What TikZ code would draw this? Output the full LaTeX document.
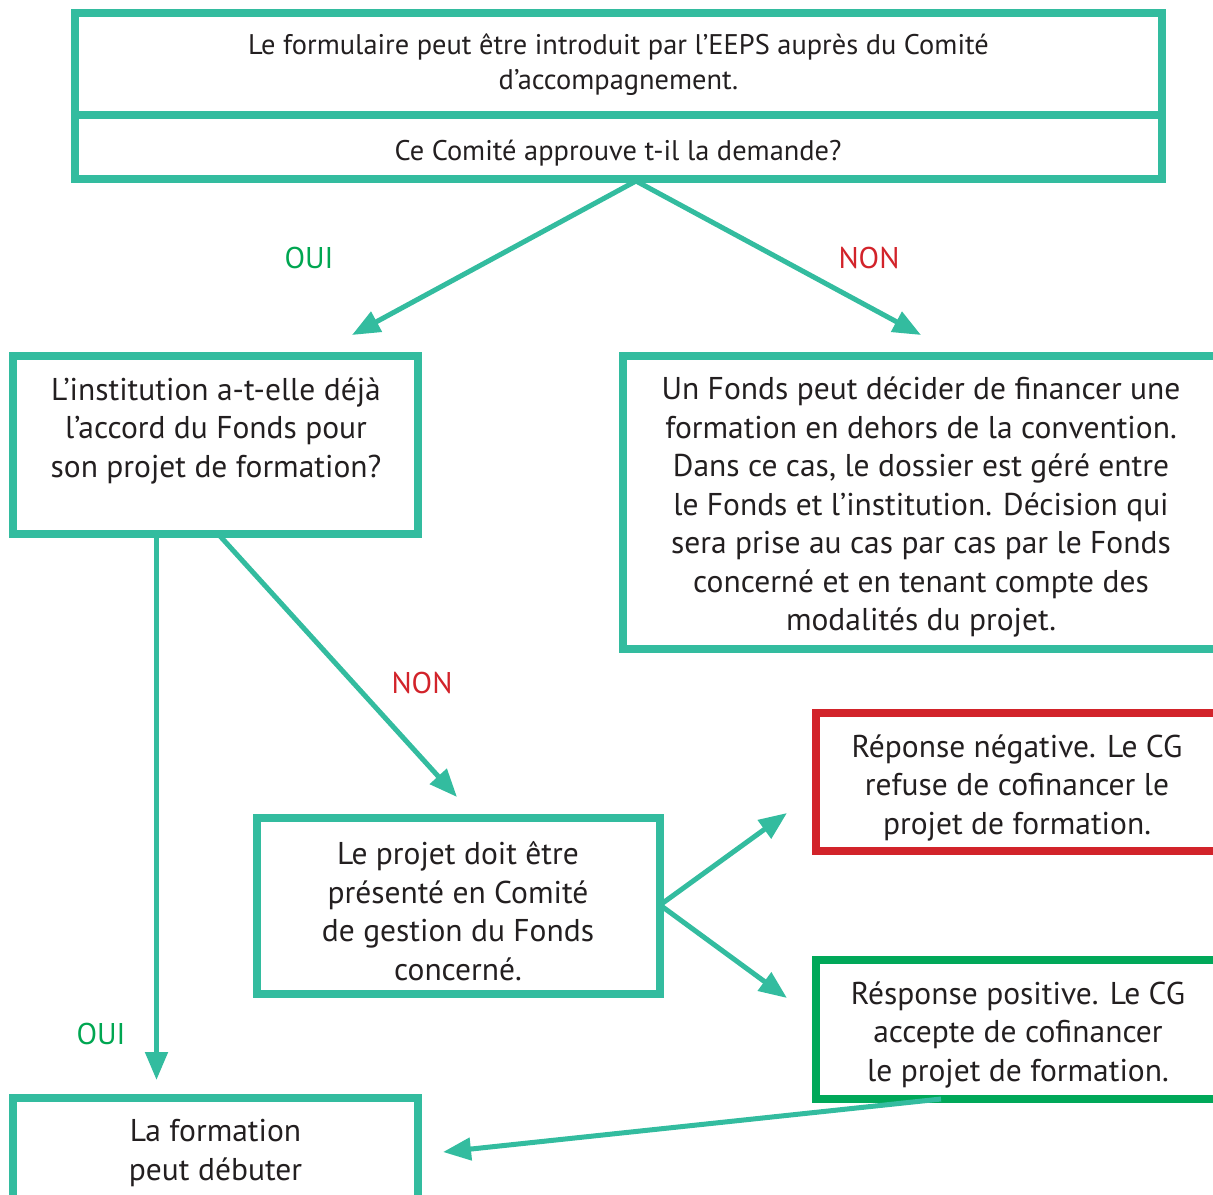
\documentclass[tikz,border=0pt]{standalone}
\usepackage{fontspec}
\setmainfont{PT Sans}
\usetikzlibrary{arrows.meta}
\definecolor{tealc}{RGB}{51,188,159}
\definecolor{redc}{RGB}{210,35,42}
\definecolor{greenc}{RGB}{0,168,89}
\definecolor{ouic}{RGB}{0,166,81}
\definecolor{ink}{RGB}{35,31,32}
\begin{document}
\begin{tikzpicture}[x=1bp,y=-1bp,
  box/.style={draw=tealc,line width=8bp,inner sep=0pt,outer sep=0pt},
  txt/.style={text=ink,align=center,inner sep=0pt,font=\fontsize{31.5bp}{38.5bp}\selectfont},
  toptxt/.style={text=ink,align=center,inner sep=0pt,font=\fontsize{28.4bp}{35bp}\selectfont},
  lbl/.style={inner sep=0pt,font=\fontsize{30bp}{34bp}\selectfont},
  arr/.style={draw=tealc,line width=5bp,-{Triangle[length=28bp,width=22bp]}}]
\useasboundingbox (0,0) rectangle (1213,1195);
% boxes
\node[box,minimum width=1087bp,minimum height=102bp] (top1) at (618.5,64) {};
\node[box,minimum width=1087bp,minimum height=64bp] (top2) at (618.5,147) {};
\node[box,minimum width=405bp,minimum height=178bp] (inst) at (215.5,445) {};
\node[box,minimum width=595bp,minimum height=293bp] (fonds) at (920.5,502.5) {};
\node[box,minimum width=403bp,minimum height=176.5bp] (projet) at (458.5,905.75) {};
\node[box,draw=redc,minimum width=402bp,minimum height=138.5bp] (neg) at (1017,781.75) {};
\node[box,draw=greenc,minimum width=402bp,minimum height=139bp] (pos) at (1017,1029.5) {};
\node[box,minimum width=405bp,minimum height=117bp] (start) at (215.5,1156.5) {};
% texts
\node[toptxt] (t1) at (618.5,64.5) {Le formulaire peut être introduit par l’EEPS auprès du Comité\\d’accompagnement.};
\node[toptxt] (t2) at (618,153) {Ce Comité approuve t-il la demande?};
\node[txt] (tinst) at (216,430.5) {L’institution a-t-elle déjà\\l’accord du Fonds pour\\son projet de formation?};
\node[txt] (tfonds) at (921,507) {Un Fonds peut décider de financer une\\formation en dehors de la convention.\\Dans ce cas, le dossier est géré entre\\le Fonds et l’institution. Décision qui\\sera prise au cas par cas par le Fonds\\concerné et en tenant compte des\\modalités du projet.};
\node[txt] (tprojet) at (458,911) {Le projet doit être\\présenté en Comité\\de gestion du Fonds\\concerné.};
\node[txt] (tneg) at (1017,787.5) {Réponse négative. Le CG\\refuse de cofinancer le\\projet de formation.};
\node[txt] (tpos) at (1018,1034.5) {Résponse positive. Le CG\\accepte de cofinancer\\le projet de formation.};
\node[txt] (tstart) at (215.5,1153) {La formation\\peut débuter};
% labels
\node[lbl,text=ouic] (oui1) at (309,258) {OUI};
\node[lbl,text=redc] (non1) at (869,258) {NON};
\node[lbl,text=redc] (non2) at (422,683) {NON};
\node[lbl,text=ouic] (oui2) at (101,1034) {OUI};
% connector ends
\coordinate (s1) at (636,181);
\coordinate (e1) at (352,335);
\coordinate (e2) at (921,335);
\coordinate (s3) at (156.5,536);
\coordinate (e3) at (156.5,1080);
\coordinate (s4) at (220,536);
\coordinate (e4) at (457,797);
\coordinate (s5) at (660,905);
\coordinate (e5) at (787,813);
\coordinate (e6) at (787,998);
\coordinate (s7) at (941,1099);
\coordinate (e7) at (443,1152);
% connectors
\draw[arr] (s1) -- (e1);
\draw[arr] (s1) -- (e2);
\draw[arr] (s3) -- (e3);
\draw[arr] (s4) -- (e4);
\draw[arr] (s5) -- (e5);
\draw[arr] (s5) -- (e6);
\draw[arr] (s7) -- (e7);
\end{tikzpicture}
\end{document}
